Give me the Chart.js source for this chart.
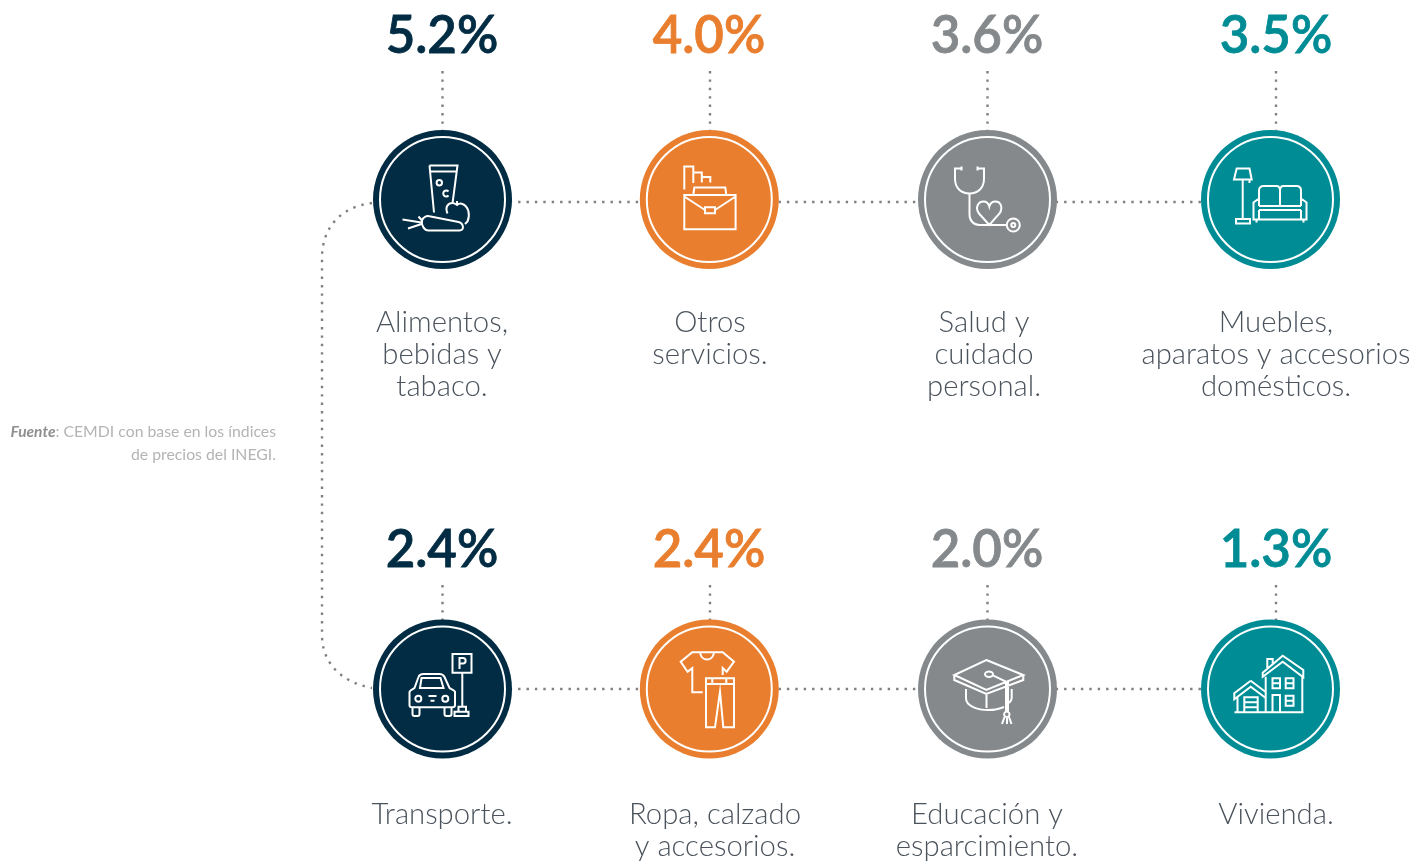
<!DOCTYPE html>
<html>
<head>
<meta charset="utf-8">
<title>Inflación por categoría</title>
<script src="https://cdn.jsdelivr.net/npm/chart.js@4"></script>
<style>
    html, body { margin: 0; padding: 0; background: #fff; }
    canvas { display: block; }
</style>
</head>
<body>
<canvas id="chart" width="1427" height="861"></canvas>
<script>
// Chart data
const categories = [
    ["Alimentos,", "bebidas y", "tabaco."],
    ["Otros", "servicios."],
    ["Salud y", "cuidado", "personal."],
    ["Muebles,", "aparatos y accesorios", "domésticos."],
    ["Transporte."],
    ["Ropa, calzado", "y accesorios."],
    ["Educación y", "esparcimiento."],
    ["Vivienda."]
];
const values = [5.2, 4.0, 3.6, 3.5, 2.4, 2.4, 2.0, 1.3];

// Layout, in the page's own pixel units
const circleX = [442.5, 709.3, 987.5, 1270.5, 442.5, 709.3, 987.5, 1270.5];
const circleY = [199.5, 199.5, 199.5, 199.5, 689, 689, 689, 689];
const stemX = [442.5, 710, 987.5, 1276, 442.5, 710, 987.5, 1276];
const valueX = [442, 709, 987, 1276, 442, 709, 987, 1276];
const labelX = [442, 710, 984, 1276, 442, 715, 987, 1276];
const colors = ['#022c43', '#e97e2e', '#85898c', '#008c95', '#022c43', '#e97e2e', '#85898c', '#008c95'];

// White line icons, drawn around each circle's centre
const icons = [
    // glass, apple, carrot
    "M-13 -34H15L10 4M-13 -34L-8.5 13M-12.5 -28H14.5" +
    "M-.5 -16.8a2.7 2.7 0 1 0 -5.4 0a2.7 2.7 0 1 0 5.4 0M6 -8a3 3 0 1 0 0 4" +
    "M5 14C2 7 6 3.5 10 3.5C12 3.5 13 4.5 14.5 5.5C16 4 18 3.5 20 4.5C26 7 28 15 25 22L22.5 24.5M14.5 5.5V1.5" +
    "M-20.5 21C-19.5 17.5 -16 16 -13 16.8L16 22.5C21.5 24 22 31 17 31L-14 31C-18 31 -21.5 26 -20.5 21Z" +
    "M-40 20L-21 23M-34.5 29L-21 24.5M-24 17L-20.5 21",
    // briefcase with papers
    "M-25 -4.5H26.3V29.8H-25ZM-25 -3L-4.3 10.5M26.3 -3L5.7 10.5M-4.3 7.8H5.7V13.8H-4.3Z" +
    "M-16 -4.5L-15 -12H16L17 -4.5M-25 -10V-33H-16V-16.5M-16 -27H-7.5V-17M-7.5 -22.5H1V-17",
    // stethoscope and heart
    "M-26 -31H-32.5V-21C-32.5 -11 -26 -6 -18 -6C-10 -6 -3.5 -11 -3.5 -21V-31H-10M-26 -33V-29M-10 -33V-29" +
    "M-18 -6V15C-18 21 -14 25.5 -8 25.5H19" +
    "M32.3 25.5a6.5 6.5 0 1 0 -13 0a6.5 6.5 0 1 0 13 0M27.8 25.5a2 2 0 1 0 -4 0a2 2 0 1 0 4 0" +
    "M1.8 25.5L-8.5 14C-13 8 -9 2 -4 2C-1 2 1 4 1.8 7C2.6 4 5 2 8 2C13 2 16 8 12 14Z",
    // floor lamp and sofa
    "M-33.8 -31H-21L-18.8 -20H-36.5ZM-27.8 -20V19.5M-34.5 19.5H-20.5V24H-34.5ZM-21 -20V-16.5" +
    "M-11.5 -1V-9C-11.5 -12 -9 -13.5 -7 -13.5H6C8 -13.5 9.5 -12 9.5 -9V6.5M9.5 -9C9.5 -12 11 -13.5 13 -13.5H26C28.5 -13.5 30.5 -12 30.5 -9V-1" +
    "M-11.5 6.5H30.5M-11.5 10.5H30.5M-11.5 -1V6.5M30.5 -1V6.5" +
    "M-11.5 -1L-17 3V20H36V3L30.5 -1M-11.5 10.5V20M30.5 10.5V20M-14 20V23M33 20V23",
    // car and parking sign
    "M10 -35H29V-16.3H10ZM17 -20V-31H20.5C24 -31 24 -25.5 20.5 -25.5H17M19.8 -16.3V17.7M16 22.7V17.7H23.5V22.7M12 22.7H26V27H12Z" +
    "M-33 3C-33 1 -29 0 -28 -1L-24 -12C-23 -15 -21 -15 -19 -15H-3C0 -15 1 -14 2 -12L7 -1C8 0 12.5 1 12.5 3V16C12.5 17.5 11.5 18.3 10 18.3H-30.5C-32 18.3 -33 17.5 -33 16Z" +
    "M-21 -11H-2L1 -1H-22.5L-21 -11ZM-30 18.3V25C-30 26.5 -29 27 -28 27H-25C-24 27 -23 26.5 -23 25V18.3M2 18.3V25C2 26.5 3 27 4 27H7C8 27 9 26.5 9 25V18.3" +
    "M-21.2 9.7a3 3 0 1 0 -6 0a3 3 0 1 0 6 0M5.8 9.7a3 3 0 1 0 -6 0a3 3 0 1 0 6 0M-14 7H-6M-12 11.7H-8",
    // t-shirt and trousers
    "M-9.3 -36.7H-17L-28.6 -27.3L-21.7 -17.3L-17 -21V3.3H-6.6M13.4 -14V-21L17.4 -17.3L24.7 -27.3L13.4 -36.7H4.7M13.4 -36.7H-9.3M-9.3 -36.7C-8 -27 3.5 -27 4.7 -36.7" +
    "M-3.3 -10.7H24.7V38.3H14L10.7 2.7L5.7 38.3H-3.3ZM-3.3 -5H24.7M3 -10.7V-5M17 -10.7V-5",
    // graduation cap
    "M-1.2 -29L35.8 -14L-1.2 1L-33.2 -14ZM-33.2 -14V-9L-1.2 5L35.8 -9V-14" +
    "M5.5 -14.7a4 2.7 0 1 0 -8 0a4 2.7 0 1 0 8 0M5.8 -13.3L18.5 -7.3V22.7M20.5 -8V22.7" +
    "M-21.5 0V9.3C-21.5 17 -10 21 1 21C6 21 12 20 16.5 18M24.2 0V9C24.2 11 23 12.5 21.5 14M-1 6V19" +
    "M22 25.3a2.7 2.7 0 1 0 -5.4 0a2.7 2.7 0 1 0 5.4 0M17 28L14.5 35M19.5 28V35M21.5 28L24 35",
    // two houses
    "M-36 23.3H33M-4.8 -12.3V23.3M31.8 -12.3V23.3M12.2 -33.3L-7.8 -16.3V-12.3L12.2 -27.3L32.8 -11.7V-19ZM-3.2 -20V-30H2.2V-25" +
    "M2 -10.7H9.5V-.7H2ZM15.2 -10.7H23V-.7H15.2ZM2 -5.7H9.5M15.2 -5.7H23M2 23.3V6H9.5V23.3M15.2 6.7H23V16.7H15.2ZM15.2 11.7H23" +
    "M-19.8 -8.3L-36.2 4.3V10.3L-19.8 -2.3L-4.8 9M-19.8 -8.3L-4.8 3M-33 8V23.3M-26.2 23.3V8.3H-12.8V23.3M-26.2 13.3H-12.8M-26.2 18.3H-12.8"
];

// Dotted connector points: rows and the stems from the values down to the circles
const rowTop = circleX.slice(0, 4).map(x => ({ x: x, y: 202 }));
const rowBottom = circleX.slice(4).map(x => ({ x: x, y: 689 }));
const stems = [];
stemX.forEach((x, i) => {
    const top = i < 4 ? 71 : 585;
    stems.push({ x: x, y: top }, { x: x, y: circleY[i] - 69 }, { x: x, y: null });
});

const dotted = {
    type: 'scatter',
    showLine: true,
    pointRadius: 0,
    borderColor: '#808080',
    borderWidth: 2.4,
    borderDash: [2.4, 6],
    spanGaps: false
};

const drawExtras = {
    id: 'drawExtras',
    beforeDatasetsDraw(chart) {
        // rounded connector on the left that joins both rows
        const { ctx, scales } = chart;
        const px = v => scales.x.getPixelForValue(v);
        const py = v => scales.y.getPixelForValue(v);
        ctx.save();
        ctx.strokeStyle = '#808080';
        ctx.lineWidth = 2.4;
        ctx.setLineDash([2.4, 6]);
        ctx.beginPath();
        ctx.moveTo(px(372), py(203));
        ctx.bezierCurveTo(px(340), py(207), px(322), py(228), px(322), py(258));
        ctx.lineTo(px(322), py(635));
        ctx.bezierCurveTo(px(322), py(662), px(340), py(682), px(372), py(688));
        ctx.stroke();
        ctx.restore();
    },
    afterDatasetsDraw(chart) {
        const { ctx, scales } = chart;
        ctx.save();
        ctx.textBaseline = 'alphabetic';
        values.forEach((value, i) => {
            const cx = scales.x.getPixelForValue(circleX[i]);
            const cy = scales.y.getPixelForValue(circleY[i]);

            ctx.save();
            ctx.translate(cx, cy);
            ctx.strokeStyle = '#fff';
            ctx.lineWidth = 2;
            ctx.stroke(new Path2D(icons[i]));
            ctx.restore();

            ctx.textAlign = 'center';
            ctx.fillStyle = colors[i];
            ctx.strokeStyle = colors[i];
            ctx.lineWidth = 0.8;
            ctx.font = '600 51px Lato';
            const valueText = value.toFixed(1) + '%';
            ctx.fillText(valueText, valueX[i], i < 4 ? 53 : 567);
            ctx.strokeText(valueText, valueX[i], i < 4 ? 53 : 567);

            ctx.fillStyle = '#4b535c';
            ctx.font = '300 29.3px Lato';
            categories[i].forEach((line, n) => {
                ctx.fillText(line, labelX[i], (i < 4 ? 332 : 824) + n * 32);
            });
        });

        // source note, right aligned
        ctx.fillStyle = '#b4b4b4';
        ctx.textAlign = 'right';
        ctx.font = '400 15.8px Lato';
        const rest = ': CEMDI con base en los índices';
        ctx.fillText(rest, 276, 437);
        const restWidth = ctx.measureText(rest).width;
        ctx.fillStyle = '#8f8f8f';
        ctx.font = 'italic 700 15.5px Lato';
        ctx.fillText('Fuente', 276 - restWidth, 437);
        ctx.fillStyle = '#b4b4b4';
        ctx.font = '400 15.8px Lato';
        ctx.fillText('de precios del INEGI.', 276, 460);
        ctx.restore();
    }
};

new Chart(document.getElementById('chart').getContext('2d'), {
    type: 'scatter',
    data: {
        datasets: [
            {
                // white ring inside each circle
                data: circleX.map((x, i) => ({ x: x, y: circleY[i] })),
                pointRadius: 62.5,
                pointBackgroundColor: 'transparent',
                pointBorderColor: '#fff',
                pointBorderWidth: 2
            },
            {
                data: circleX.map((x, i) => ({ x: x, y: circleY[i] })),
                pointRadius: 69.5,
                pointBackgroundColor: colors,
                pointBorderWidth: 0
            },
            Object.assign({ data: rowTop }, dotted),
            Object.assign({ data: rowBottom }, dotted),
            Object.assign({ data: stems }, dotted)
        ]
    },
    options: {
        responsive: false,
        animation: false,
        events: [],
        layout: { padding: 0, autoPadding: false },
        plugins: { legend: { display: false }, tooltip: { enabled: false } },
        scales: {
            x: { type: 'linear', display: false, min: 0, max: 1427 },
            y: { type: 'linear', display: false, min: 0, max: 861, reverse: true }
        }
    },
    plugins: [drawExtras]
});
</script>
</body>
</html>
